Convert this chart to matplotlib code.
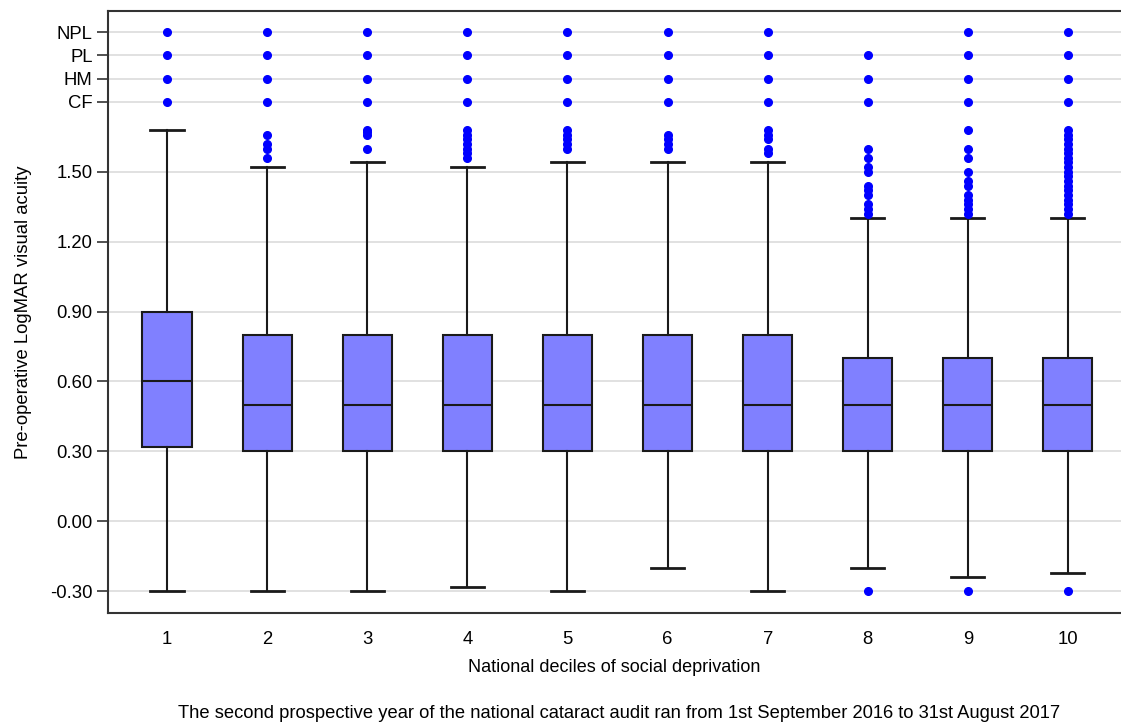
import matplotlib
matplotlib.use("Agg")
import matplotlib.pyplot as plt

plt.rcParams['font.family'] = ['Liberation Sans', 'DejaVu Sans']

deciles = ['1', '2', '3', '4', '5', '6', '7', '8', '9', '10']
q1 = [0.32, 0.30, 0.30, 0.30, 0.30, 0.30, 0.30, 0.30, 0.30, 0.30]
median = [0.60, 0.50, 0.50, 0.50, 0.50, 0.50, 0.50, 0.50, 0.50, 0.50]
q3 = [0.90, 0.80, 0.80, 0.80, 0.80, 0.80, 0.80, 0.70, 0.70, 0.70]
whislo = [-0.30, -0.30, -0.30, -0.28, -0.30, -0.20, -0.30, -0.20, -0.24, -0.22]
whishi = [1.68, 1.52, 1.54, 1.52, 1.54, 1.54, 1.54, 1.30, 1.30, 1.30]

# CF = 1.8, HM = 1.9, PL = 2.0, NPL = 2.1 on the plotting scale
fliers = [
    [1.8, 1.9, 2.0, 2.1],
    [1.56, 1.60, 1.62, 1.66, 1.8, 1.9, 2.0, 2.1],
    [1.60, 1.66, 1.67, 1.68, 1.8, 1.9, 2.0, 2.1],
    [1.56, 1.58, 1.60, 1.62, 1.64, 1.66, 1.68, 1.8, 1.9, 2.0, 2.1],
    [1.60, 1.62, 1.64, 1.66, 1.68, 1.8, 1.9, 2.0, 2.1],
    [1.60, 1.62, 1.64, 1.66, 1.8, 1.9, 2.0, 2.1],
    [1.58, 1.60, 1.64, 1.66, 1.68, 1.8, 1.9, 2.0, 2.1],
    [-0.30, 1.32, 1.34, 1.36, 1.40, 1.42, 1.44, 1.50, 1.52, 1.56, 1.60, 1.8, 1.9, 2.0],
    [-0.30, 1.32, 1.34, 1.36, 1.38, 1.40, 1.44, 1.46, 1.50, 1.56, 1.60, 1.68, 1.8, 1.9, 2.0, 2.1],
    [-0.30, 1.32, 1.34, 1.36, 1.38, 1.40, 1.42, 1.44, 1.46, 1.48, 1.50, 1.52, 1.54,
     1.56, 1.58, 1.60, 1.62, 1.64, 1.66, 1.68, 1.8, 1.9, 2.0, 2.1],
]

ytick_vals = [-0.30, 0.00, 0.30, 0.60, 0.90, 1.20, 1.50, 1.8, 1.9, 2.0, 2.1]
ytick_labels = ['-0.30', '0.00', '0.30', '0.60', '0.90', '1.20', '1.50', 'CF', 'HM', 'PL', 'NPL']

stats = []
for i in range(len(deciles)):
    stats.append(dict(label=deciles[i], q1=q1[i], med=median[i], q3=q3[i],
                      whislo=whislo[i], whishi=whishi[i], fliers=fliers[i]))

fig = plt.figure(figsize=(11.21, 7.26), dpi=100)
ax = fig.add_axes([0.0963, 0.1552, 0.9037, 0.8296])

positions = list(range(1, len(deciles) + 1))
ax.bxp(stats, positions=positions, widths=0.49, capwidths=0.33, patch_artist=True,
       showfliers=True,
       boxprops=dict(facecolor='#8080ff', edgecolor='#1a1a1a', linewidth=1.5),
       medianprops=dict(color='#1a1a1a', linewidth=1.5),
       whiskerprops=dict(color='#1a1a1a', linewidth=1.5),
       capprops=dict(color='#1a1a1a', linewidth=2.0),
       flierprops=dict(marker='o', markerfacecolor='#0000ff', markeredgecolor='#0000ff',
                       markersize=5.5, linestyle='none'))

ax.set_xlim(0.41, 10.53)
ax.set_ylim(-0.395, 2.19)
ax.set_yticks(ytick_vals)
ax.set_yticklabels(ytick_labels)
ax.set_xticks(positions)
ax.set_xticklabels(deciles)
ax.yaxis.grid(True, color='#dcdcdc', linewidth=1.2)
ax.set_axisbelow(True)
ax.tick_params(axis='y', length=8, width=1.2, color='#333333', labelsize=13.3, pad=3)
ax.tick_params(axis='x', length=0, labelsize=13.3, pad=13)
for s in ['left', 'top', 'bottom']:
    ax.spines[s].set_color('#333333')
    ax.spines[s].set_linewidth(1.5)
ax.spines['right'].set_visible(False)

ax.set_xlabel('National deciles of social deprivation', fontsize=13, labelpad=8)
ax.set_ylabel('Pre-operative LogMAR visual acuity', fontsize=13.3, labelpad=13)

fig.text(0.552, 0.006, 'The second prospective year of the national cataract audit ran from 1st September 2016 to 31st August 2017',
         ha='center', va='bottom', fontsize=13.2)

fig.savefig('out.png', dpi=100)
